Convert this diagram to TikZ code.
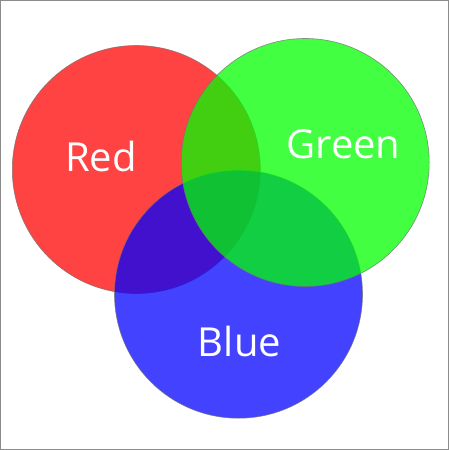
\documentclass[tikz,border=0pt]{standalone}
\usepackage{fontspec}
\setmainfont{Open Sans}
\begin{document}
\begin{tikzpicture}[x=1pt,y=-1pt]
    \tikzset{
        disc/.style={draw=black!55,line width=0.6pt,fill opacity=0.74,draw opacity=0.8},
        lbl/.style={text=white,font=\fontsize{40}{48}\selectfont,inner sep=0pt,anchor=base}
    }
    \useasboundingbox (0,0) rectangle (449,450);
    \draw[black!45,line width=1.3pt] (0.65,0.65) rectangle (448.35,449.35);

    \coordinate (R) at (136.3,169.5);
    \coordinate (G) at (305.2,162.5);
    \coordinate (B) at (238.5,294.2);

    % red first, then blue, green on top
    \path[disc,fill=red] (R) circle (124pt);
    \path[disc,fill=blue] (B) circle (124pt);
    \path[disc,fill=green] (G) circle (124pt);

    \node[lbl] (red) at (101,171.7) {Red};
    \node[lbl] (green) at (343.5,158.3) {Green};
    \node[lbl] (blue) at (239.5,356.7) {Blue};
\end{tikzpicture}
\end{document}
